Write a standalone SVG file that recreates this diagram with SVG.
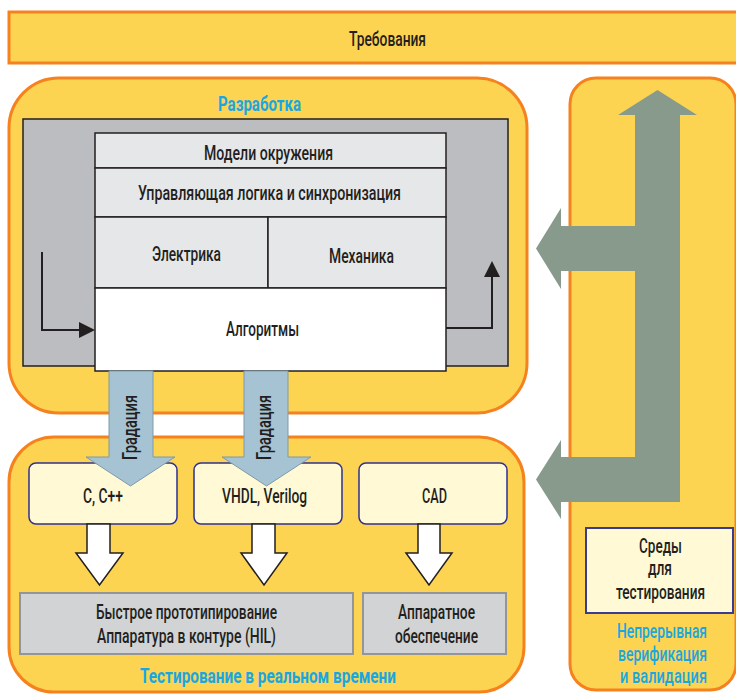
<svg xmlns="http://www.w3.org/2000/svg" width="736" height="694" viewBox="0 0 736 694">
<style>
.zone{fill:#FDD451;stroke:#F5821F;stroke-width:3}
.t{font-family:Roboto,"Liberation Sans",sans-serif;font-size:20px;font-weight:500;fill:#231F20;text-anchor:middle}
.tb{font-family:Roboto,"Liberation Sans",sans-serif;font-size:20px;font-weight:bold;fill:#1AA7E1;text-anchor:middle}
.tbl{font-family:Roboto,"Liberation Sans",sans-serif;font-size:20px;font-weight:500;fill:#1AA7E1;text-anchor:middle}
.row{fill:#E6E7E8;stroke:#231F20;stroke-width:1.5}
.wht{fill:#FFFFFF;stroke:#231F20;stroke-width:1.5}
.lang{fill:#FFF9D6;stroke:#2E3192;stroke-width:1.5}
.hw{fill:#D1D3D4;stroke:#939598;stroke-width:2}
.blue{fill:#A6C3D3;stroke:#7F9AA9;stroke-width:1}
.warr{fill:#FFFFFF;stroke:#231F20;stroke-width:1.5}
.line{fill:none;stroke:#231F20;stroke-width:2}
</style>

<g id="requirements">
<rect class="zone" x="9" y="12" width="740" height="51"/>
<text class="t" x="387.5" y="46" textLength="77" lengthAdjust="spacingAndGlyphs">Требования</text>
</g>

<g id="verification">
<rect class="zone" x="570" y="78" width="166" height="612" rx="26"/>
<text class="tbl" transform="translate(662,638) scale(0.75,1)" textLength="120" lengthAdjust="spacingAndGlyphs">Непрерывная</text>
<text class="tbl" transform="translate(662.5,661) scale(0.75,1)" textLength="118.7" lengthAdjust="spacingAndGlyphs">верификация</text>
<text class="tbl" transform="translate(663.5,683) scale(0.75,1)" textLength="116" lengthAdjust="spacingAndGlyphs">и валидация</text>
</g>

<g id="development">
<rect class="zone" x="9" y="78" width="518" height="335" rx="50"/>
<text class="tb" x="259.5" y="111" textLength="83" lengthAdjust="spacingAndGlyphs">Разработка</text>
<rect x="23" y="119" width="485" height="247" fill="#BCBDC0" stroke="#231F20" stroke-width="1.5"/>
</g>

<g id="env-models">
<rect class="row" x="95" y="133" width="351" height="35"/>
<text class="t" x="268.5" y="160" textLength="129" lengthAdjust="spacingAndGlyphs">Модели окружения</text>
</g>
<g id="control-logic">
<rect class="row" x="95" y="168" width="351" height="49"/>
<text class="t" x="269.5" y="200" textLength="263" lengthAdjust="spacingAndGlyphs">Управляющая логика и синхронизация</text>
</g>
<g id="electrics">
<rect class="row" x="95" y="217" width="173" height="71"/>
<text class="t" x="186.5" y="261" textLength="69" lengthAdjust="spacingAndGlyphs">Электрика</text>
</g>
<g id="mechanics">
<rect class="row" x="268" y="217" width="178" height="71"/>
<text class="t" x="361.5" y="263" textLength="65" lengthAdjust="spacingAndGlyphs">Механика</text>
</g>
<g id="algorithms">
<rect class="wht" x="95" y="288" width="351" height="83"/>
<text class="t" x="262.5" y="336" textLength="73" lengthAdjust="spacingAndGlyphs">Алгоритмы</text>
</g>

<g id="realtime-testing">
<rect class="zone" x="9" y="437" width="515" height="255" rx="45"/>
<text class="tb" x="268" y="683" textLength="256" lengthAdjust="spacingAndGlyphs">Тестирование в реальном времени</text>
</g>

<g id="c-cpp">
<rect class="lang" x="29" y="463" width="148" height="61" rx="7"/>
<text class="t" x="103" y="503" textLength="40" lengthAdjust="spacingAndGlyphs">C, C++</text>
</g>
<g id="vhdl">
<rect class="lang" x="194" y="463" width="148" height="61" rx="7"/>
<text class="t" x="264.5" y="503" textLength="85" lengthAdjust="spacingAndGlyphs">VHDL, Verilog</text>
</g>
<g id="cad">
<rect class="lang" x="359" y="463" width="148" height="61" rx="7"/>
<text class="t" x="434.5" y="503" textLength="25" lengthAdjust="spacingAndGlyphs">CAD</text>
</g>

<g id="prototyping">
<rect class="hw" x="20" y="593" width="333" height="61"/>
<text class="t" x="186.5" y="619" textLength="181" lengthAdjust="spacingAndGlyphs">Быстрое прототипирование</text>
<text class="t" x="186.5" y="643" textLength="179" lengthAdjust="spacingAndGlyphs">Аппаратура в контуре (HIL)</text>
</g>
<g id="hardware">
<rect class="hw" x="363" y="593" width="143" height="61"/>
<text class="t" x="436.5" y="619" textLength="77" lengthAdjust="spacingAndGlyphs">Аппаратное</text>
<text class="t" x="436.5" y="643" textLength="83" lengthAdjust="spacingAndGlyphs">обеспечение</text>
</g>

<g id="test-envs">
<rect x="586" y="528" width="147" height="85" fill="#FFF9D6" stroke="#3A3D8F" stroke-width="2"/>
<text class="t" transform="translate(660.5,553) scale(0.75,1)" textLength="57.3" lengthAdjust="spacingAndGlyphs">Среды</text>
<text class="t" transform="translate(660,575) scale(0.75,1)" textLength="32" lengthAdjust="spacingAndGlyphs">для</text>
<text class="t" transform="translate(660.5,599) scale(0.75,1)" textLength="118.7" lengthAdjust="spacingAndGlyphs">тестирования</text>
</g>

<g id="connectors">
<path class="line" d="M42 252 V330 H80"/>
<polygon points="79,322 95,330 79,338" fill="#231F20"/>
<path class="line" d="M446 328 H492 V275"/>
<polygon points="484,277 492,261 500,277" fill="#231F20"/>

<polygon class="blue" points="109,371 153,371 153,457 175,457 130.5,486 86,457 109,457"/>
<text class="t" transform="translate(137,427.5) rotate(-90)" textLength="65" lengthAdjust="spacingAndGlyphs">Градация</text>
<polygon class="blue" points="244,371 288,371 288,457 311,457 266.5,486 222,457 244,457"/>
<text class="t" transform="translate(271,427.5) rotate(-90)" textLength="65" lengthAdjust="spacingAndGlyphs">Градация</text>

<polygon class="warr" points="87,524 110,524 110,553 123,553 99.5,585 76,553 87,553"/>
<polygon class="warr" points="252,524 275,524 275,553 287,553 264,585 241,553 252,553"/>
<polygon class="warr" points="418,524 440,524 440,553 452,553 429,585 406,553 418,553"/>

<polygon fill="#879A8C" points="657.5,90 697,115 680,115 680,502 561,502 561,519 536,479.5 561,440 561,457 635,457 635,271 561,271 561,289 536,248.5 561,208 561,226 635,226 635,115 618,115"/>
</g>
</svg>
